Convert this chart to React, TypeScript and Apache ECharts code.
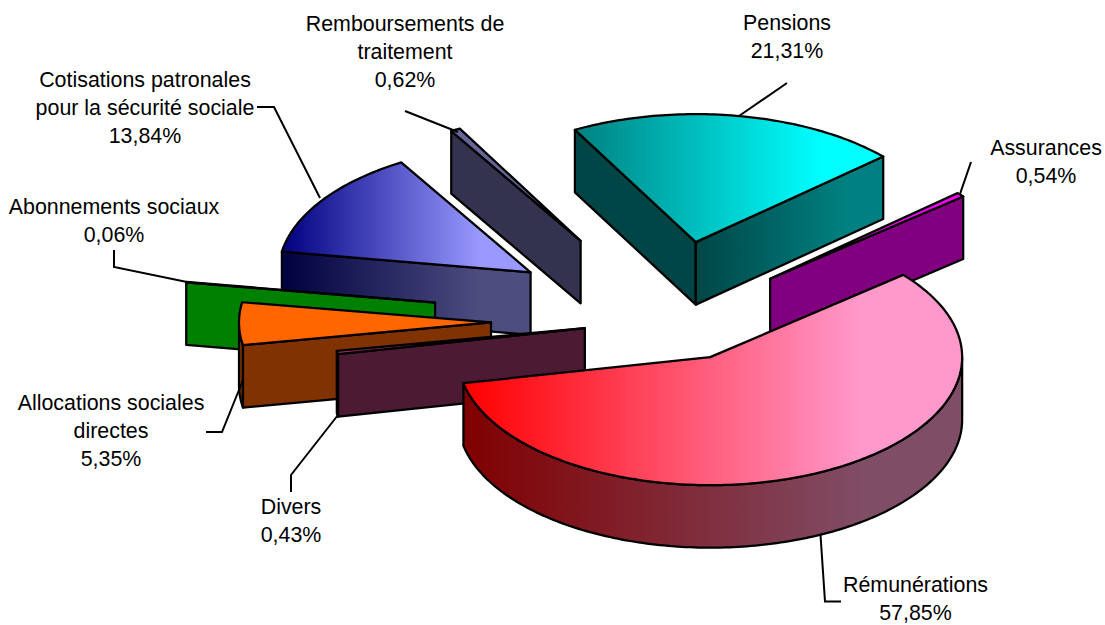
import React, { useEffect, useRef } from "react";
import * as echarts from "echarts";

// Clockwise from the chart's first angle
const names = ["Rémunérations", "Divers", "Allocations sociales\ndirectes", "Abonnements sociaux", "Cotisations patronales\npour la sécurité sociale", "Remboursements de\ntraitement", "Pensions", "Assurances"];
const values = [57.85, 0.43, 5.35, 0.06, 13.84, 0.62, 21.31, 0.54];

// Pie geometry and styling (not data)
const firstAngle = 50;
const center = [672, 322];
const radiusX = 252;
const radiusY = 128;
const depth = 62.5;
const explode = [79, 88, 181, 240, 172, 184, 159, 130];
const explodeTilt = [-3, 3, 0.3, 0, 0.5, 0, -1.1, 0];
const paintOrder = [5, 6, 4, 7, 3, 2, 1, 0];
const topFrom = ["#ff0000", "#993366", "#ff6600", "#008000", "#000080", "#666699", "#008080", "#ff00ff"];
const topTo = ["#ff99cc", "#993366", "#ff6600", "#008000", "#9999ff", "#666699", "#00ffff", "#ff00ff"];
const faceFrom = ["#800000", "#4d1a33", "#803300", "#008000", "#000040", "#333350", "#004646", "#800080"];
const faceTo = ["#804d66", "#4d1a33", "#803300", "#008000", "#4d4d80", "#333350", "#008080", "#800080"];
const startFaceSolid = [false, true, true, true, false, true, true, true];
const gradientEnd = 0.8;

const labelCenters = [[915.5, 599], [291, 521], [111, 431], [114, 221], [145, 108], [405, 52], [787, 37], [1046, 162]];
const leaders = [
  [[820.5, 535], [825, 601.5], [841, 601.5]],
  [[338, 415], [291, 475], [291, 492]],
  [[243, 380], [222, 432], [206, 432]],
  [[114, 250], [114, 267], [187, 282]],
  [[257, 107], [274, 107], [320, 198]],
  [[405, 111], [458, 132]],
  [[787, 83], [739, 116]],
  [[971, 162], [960, 194]],
];

const total = values.reduce((a, b) => a + b, 0);
const startAngles: number[] = [];
values.reduce((acc, v, i) => {
  startAngles[i] = acc;
  return acc + (v / total) * 360;
}, firstAngle);

const rad = (d: number) => (d * Math.PI) / 180;
const grad = (a: string, b: string) =>
  new echarts.graphic.LinearGradient(0, 0, 1, 0, [
    { offset: 0, color: a },
    { offset: gradientEnd, color: b },
    { offset: 1, color: b },
  ]);

const pct = (v: number) => v.toFixed(2).replace(".", ",") + "%";

function renderSlice(params: any, api: any) {
  const i = api.value(0) as number;
  const v = api.value(1) as number;
  const a0 = startAngles[i];
  const a1 = a0 + (v / total) * 360;
  const mid = rad((a0 + a1) / 2 + explodeTilt[i]);
  const ax = center[0] + explode[i] * Math.sin(mid);
  const ay = center[1] - explode[i] * Math.cos(mid) * (radiusY / radiusX);
  const at = (deg: number, dz = 0): number[] => [
    ax + radiusX * Math.sin(rad(deg)),
    ay - radiusY * Math.cos(rad(deg)) + dz,
  ];
  const arc = (from: number, to: number, dz = 0) => {
    const n = Math.max(2, Math.ceil(Math.abs(to - from)));
    const pts: number[][] = [];
    for (let k = 0; k <= n; k++) pts.push(at(from + ((to - from) * k) / n, dz));
    return pts;
  };
  const strokeStyle = { stroke: "#000", lineWidth: 2.25, lineJoin: "round" as const };
  const children: any[] = [];
  const poly = (points: number[][], fill: any) =>
    children.push({ type: "polygon", shape: { points }, style: { ...strokeStyle, fill } });

  // outer wall (front half of the ellipse only)
  for (const offset of [0, 360]) {
    const w0 = Math.max(a0, 90 + offset);
    const w1 = Math.min(a1, 270 + offset);
    if (w1 > w0) poly([...arc(w0, w1), ...arc(w1, w0, depth)], grad(faceFrom[i], faceTo[i]));
  }
  // cut faces that look towards the viewer
  if (Math.sin(rad(a0)) < 0) {
    const p = at(a0);
    const fill = startFaceSolid[i] ? faceFrom[i] : grad(faceFrom[i], faceTo[i]);
    poly([[ax, ay], p, [p[0], p[1] + depth], [ax, ay + depth]], fill);
  }
  if (Math.sin(rad(a1)) > 0) {
    const p = at(a1);
    poly([[ax, ay], p, [p[0], p[1] + depth], [ax, ay + depth]], grad(faceFrom[i], faceTo[i]));
  }
  // top
  poly([[ax, ay], ...arc(a0, a1)], grad(topFrom[i], topTo[i]));
  return { type: "group", children };
}

export default function App() {
  const ref = useRef<HTMLDivElement>(null);
  useEffect(() => {
    document.body.style.margin = "0";
    const chart = echarts.init(ref.current!, undefined, { renderer: "svg" });
    chart.setOption({
      animation: false,
      backgroundColor: "#ffffff",
      series: [
        {
          type: "custom",
          coordinateSystem: "none",
          renderItem: renderSlice,
          data: paintOrder.map((i) => [i, values[i], names[i]]),
          encode: { value: 1, itemName: 2 },
          z: 3,
        },
      ],
      graphic: [
        ...leaders.map((points) => ({
          type: "polyline",
          z: 5,
          shape: { points },
          style: { stroke: "#000", lineWidth: 2, fill: "none" },
        })),
        ...names.map((n, i) => ({
          type: "text",
          z: 6,
          x: labelCenters[i][0],
          y: labelCenters[i][1],
          style: {
            text: `${n}\n${pct(values[i])}`,
            fill: "#000",
            font: '21.4px "Liberation Sans"',
            lineHeight: 28,
            align: "center",
            verticalAlign: "middle",
          },
        })),
      ],
    });
    return () => chart.dispose();
  }, []);
  return <div ref={ref} style={{ width: 1105, height: 625 }} />;
}
